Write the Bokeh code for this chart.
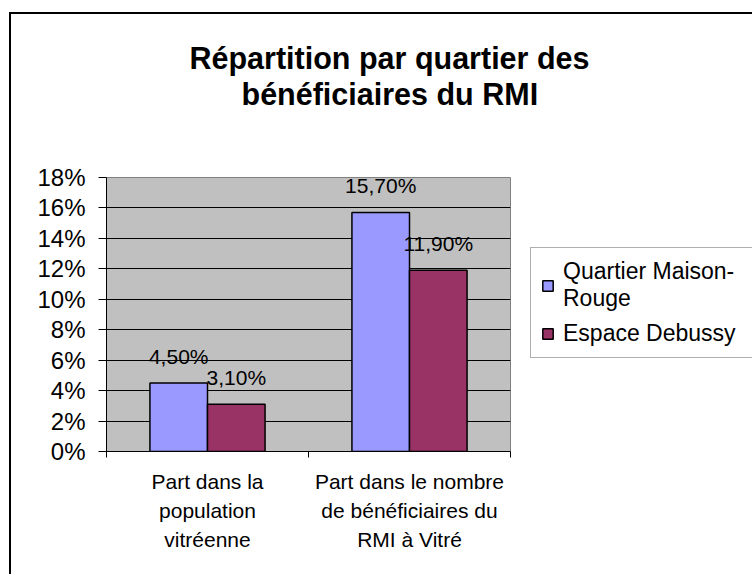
from bokeh.plotting import figure
from bokeh.models import ColumnDataSource, FixedTicker, Legend, LegendItem, Range1d, Title
from bokeh.core.properties import value
from bokeh.embed import file_html
from bokeh.resources import INLINE

# ---- data ----
categories = ["Part dans la\npopulation\nvitréenne",
              "Part dans le nombre\nde bénéficiaires du\nRMI à Vitré"]
series_names = ["Quartier Maison-\nRouge", "Espace Debussy"]
maison_rouge = [4.5, 15.7]
espace_debussy = [3.1, 11.9]
y_ticks = [0, 2, 4, 6, 8, 10, 12, 14, 16, 18]
y_tick_labels = ["0%", "2%", "4%", "6%", "8%", "10%", "12%", "14%", "16%", "18%"]
title_lines = ["Répartition par quartier des", "bénéficiaires du RMI"]

colors = ["#9999FF", "#993366"]
FONT = "Liberation Sans"

n = len(categories)
bar_w = 0.285
offsets = [-0.1425, 0.1425]
series = [maison_rouge, espace_debussy]

p = figure(frame_width=404, frame_height=274, output_backend="svg", toolbar_location=None,
           x_range=Range1d(0, n), y_range=Range1d(y_ticks[0], y_ticks[-1]),
           min_border_left=95, min_border_right=241, min_border_top=163, min_border_bottom=123,
           background_fill_color="#C0C0C0", border_fill_color="white",
           outline_line_color="#808080", outline_line_width=1)
p.styles = {"border-left": "2px solid black", "border-top": "2px solid black",
            "margin-left": "9px", "margin-top": "12px"}

# title: spacer + two centred lines (added from the frame outward)
p.add_layout(Title(text=" ", text_font_size="10px", standoff=54), "above")
for line, off in zip(reversed(title_lines), [135, 83]):
    p.add_layout(Title(text=line, align="left", offset=off, standoff=0,
                       text_font=FONT, text_font_size="30.5px", text_font_style="bold",
                       text_color="black"), "above")

renderers = []
for s, vals in enumerate(series):
    src = ColumnDataSource(dict(
        x=[i + 0.5 + offsets[s] for i in range(n)],
        top=vals,
        lab=[("%.2f%%" % v).replace(".", ",") for v in vals],
    ))
    r = p.vbar(x="x", top="top", width=bar_w, source=src,
               fill_color=colors[s], line_color="black", line_width=1.5)
    renderers.append(r)
    p.text(x="x", y="top", text="lab", source=src, text_align="center",
           text_baseline="middle", y_offset=-27,
           text_font=value(FONT), text_font_size="21px", text_color="black")

# y axis
p.yaxis.ticker = FixedTicker(ticks=y_ticks, minor_ticks=[])
p.yaxis.major_label_overrides = {t: l for t, l in zip(y_ticks, y_tick_labels)}
p.yaxis.major_label_text_font = FONT
p.yaxis.major_label_text_font_size = "24px"
p.yaxis.major_label_text_color = "black"
p.yaxis.major_tick_out = 8
p.yaxis.major_tick_in = 0
p.yaxis.major_label_standoff = 13
p.yaxis.axis_line_color = "black"
p.yaxis.major_tick_line_color = "black"

# x axis
cat_centers = [i + 0.5 for i in range(n)]
p.xaxis.ticker = FixedTicker(ticks=cat_centers, minor_ticks=list(range(n + 1)))
p.xaxis.major_label_overrides = {c: l for c, l in zip(cat_centers, categories)}
p.xaxis.major_label_text_font = FONT
p.xaxis.major_label_text_font_size = "21px"
p.xaxis.major_label_text_color = "black"
p.xaxis.major_label_text_line_height = 1.27
p.xaxis.major_tick_out = 0
p.xaxis.major_tick_in = 0
p.xaxis.minor_tick_out = 6
p.xaxis.minor_tick_in = 0
p.xaxis.minor_tick_line_color = "black"
p.xaxis.major_label_standoff = 12
p.xaxis.axis_line_color = "black"

# grid
p.xgrid.visible = False
p.ygrid.ticker = FixedTicker(ticks=y_ticks[1:-1])
p.ygrid.grid_line_color = "black"
p.ygrid.grid_line_width = 1

legend = Legend(items=[LegendItem(label=value(series_names[k]), renderers=[renderers[k]])
                       for k in range(len(series_names))],
                location=(20, 93), orientation="vertical",
                label_text_font=FONT, label_text_font_size="23px",
                label_text_line_height=1.5, label_text_color="black",
                glyph_width=13, glyph_height=13, label_standoff=9,
                padding=10, spacing=8, margin=0, label_width=180,
                border_line_color="#606060", border_line_width=1,
                background_fill_color="white", background_fill_alpha=1)
p.add_layout(legend, "right")

open("out.html", "w").write(file_html(p, INLINE))
